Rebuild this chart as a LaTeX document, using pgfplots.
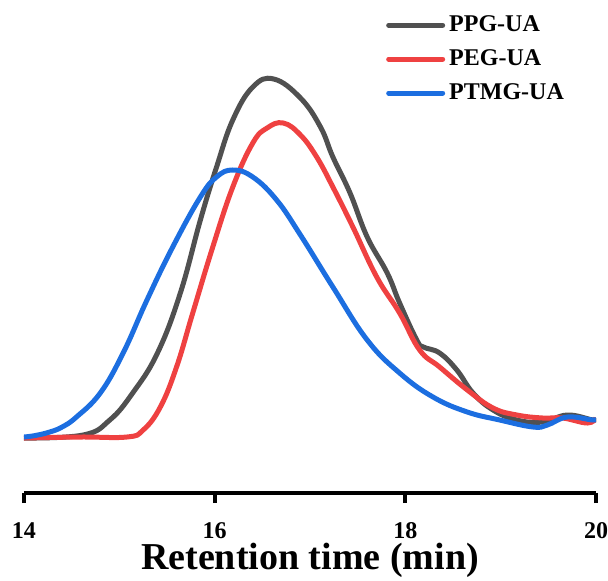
\documentclass[border=0pt]{standalone}
\usepackage{fontspec}
\setmainfont{Liberation Serif}
\usepackage{pgfplots}
\pgfplotsset{compat=1.18}
\definecolor{ppg}{HTML}{505050}
\definecolor{peg}{HTML}{EF4141}
\definecolor{ptmg}{HTML}{1C6EE0}

\begin{document}
\begin{tikzpicture}
\begin{axis}[
    name=ax,
    scale only axis,
    width=286pt, height=246.5pt,
    xmin=14, xmax=20, ymin=-56, ymax=437,
    axis x line=bottom, axis y line=none,
    axis line style={line width=2pt, -},
    xtick={14,16,18,20},
    tick style={line width=2pt, black},
    major tick length=5pt,
    tick align=outside,
    xticklabel style={font=\fontsize{12}{14}\selectfont\bfseries, inner sep=0pt, yshift=-9.5pt},
    /pgf/number format/assume math mode=true,
    xlabel={Retention time (min)},
    xlabel style={font=\fontsize{19}{21}\selectfont\bfseries, inner sep=0pt, yshift=-2pt},
    legend style={at={(0.622,0.985)}, anchor=north west, draw=none, fill=none,
        font=\fontsize{12}{14}\selectfont\bfseries, row sep=3.5pt,
        legend cell align=left},
    legend image code/.code={\draw[#1, line width=2.5pt, line cap=round] (0pt,0pt) -- (27pt,0pt);},
    every axis plot/.append style={line width=2.5pt, smooth, tension=0.7},
]
% PPG-UA
\addplot[ppg] coordinates {
(14.00,-1) (14.62,2) (14.90,17) (15.14,44) (15.40,84) (15.64,144) (15.85,217)
(16.02,270) (16.19,317) (16.40,350) (16.62,358) (16.90,339) (17.11,310)
(17.24,280) (17.42,244) (17.60,200) (17.81,164) (17.94,134) (18.12,97)
(18.19,90) (18.36,84) (18.54,67) (18.71,44) (18.92,27) (19.17,17) (19.44,15)
(19.70,22) (19.97,17) (20.00,19)
};
\addlegendentry{PPG-UA}
% PEG-UA
\addplot[peg] coordinates {
(14.00,-1) (14.59,0) (15.08,0) (15.25,7) (15.43,30) (15.60,70) (15.77,124)
(15.98,190) (16.19,250) (16.40,294) (16.55,309) (16.72,314) (16.90,302)
(17.07,280) (17.24,250) (17.45,210) (17.70,160) (17.94,124) (18.15,87)
(18.36,70) (18.65,47) (18.92,29) (19.17,22) (19.44,19) (19.65,19) (19.91,14)
(20.00,19)
};
\addlegendentry{PEG-UA}
% PTMG-UA
\addplot[ptmg] coordinates {
(14.00,0) (14.12,1.5) (14.27,5) (14.40,10) (14.55,20) (14.80,44) (15.04,84) (15.29,137) (15.56,190)
(15.85,240) (16.02,260) (16.19,267) (16.40,260) (16.65,237) (16.90,202)
(17.24,150) (17.60,97) (17.94,64) (18.29,40) (18.65,25) (18.99,17) (19.34,10)
(19.49,12) (19.70,20) (19.97,17) (20.00,19)
};
\addlegendentry{PTMG-UA}
\end{axis}
\pgfresetboundingbox
\path ([xshift=-12pt,yshift=-43.5pt]ax.south west) rectangle ([xshift=6pt]ax.north east);
\end{tikzpicture}
\end{document}
